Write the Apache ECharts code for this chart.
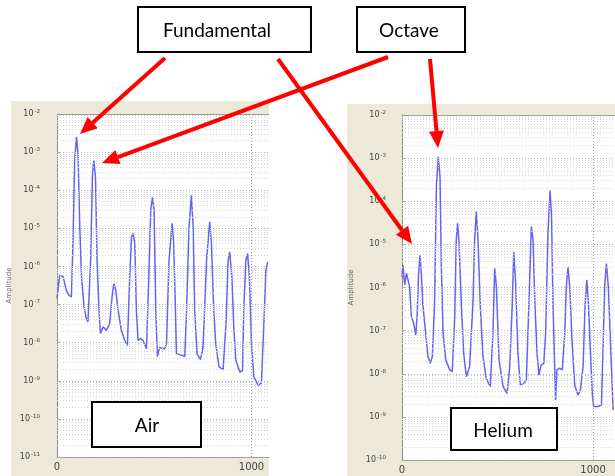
<!DOCTYPE html>
<html><head><meta charset="utf-8">
<script src="https://cdn.jsdelivr.net/npm/echarts@6/dist/echarts.min.js"></script>
<style>html,body{margin:0;padding:0;background:#fff}#c{width:615px;height:476px}</style>
</head><body><div id="c"></div>
<script>
// ---- data ----
const airFreq = [0,14,31,48,60,74,82,91,100,108,117,126,139,151,159,173,182,189,198,206,216,223,237,254,271,283,292,302,314,331,348,362,374,383,391,400,408,417,431,442,460,472,482,491,499,508,516,528,554,563,576,592,600,609,614,640,657,666,679,691,700,708,720,738,751,769,785,794,806,816,833,854,868,880,888,899,909,919,940,954,960,971,980,989,1000,1012,1034,1051,1063,1074,1083];
const airAmp = [1.45e-7,5.9e-7,5.4e-7,2.4e-7,1.78e-7,1.58e-7,4.0e-6,6.2e-4,2.5e-3,9.3e-4,1.1e-5,5.4e-7,8.7e-8,4.3e-8,3.5e-8,1.45e-6,2.2e-4,6.2e-4,2.2e-4,1.45e-6,7.1e-8,1.74e-8,2.6e-8,2.1e-8,3.2e-8,1.58e-7,3.5e-7,2.4e-7,7.1e-8,2.1e-8,1.15e-8,8.5e-9,5.4e-7,6.0e-6,7.4e-6,4.0e-6,7.1e-8,1.15e-8,1.29e-8,1.15e-8,6.9e-9,5.4e-7,3.0e-5,6.5e-5,3.0e-5,7.1e-8,4.3e-9,7.4e-9,6.9e-9,9.5e-9,1.45e-6,1.35e-5,4.0e-6,7.1e-8,5.1e-9,4.7e-9,4.3e-9,7.1e-8,1.1e-5,7.4e-5,1.1e-5,7.1e-8,5.1e-9,3.6e-9,7.8e-9,1.45e-6,1.48e-5,4.0e-6,7.1e-8,9.5e-9,2.3e-9,1.95e-9,2.6e-8,1.45e-6,2.4e-6,5.4e-7,2.6e-8,3.5e-9,1.7e-9,1.86e-9,7.1e-8,1.45e-6,2.2e-6,5.4e-7,9.5e-9,1.26e-9,7.6e-10,8.7e-10,2.6e-8,7.9e-7,1.32e-6];
const heliumFreq = [0,5,14,23,31,40,49,61,72,79,87,94,101,110,124,136,148,159,171,180,190,199,206,215,229,250,263,276,284,291,298,311,323,337,354,372,380,389,398,410,424,441,462,476,485,494,508,529,550,564,578,585,595,607,619,637,651,665,677,686,695,707,717,728,742,752,764,775,783,790,799,804,811,825,839,852,860,869,878,890,904,921,934,948,958,967,975,986,996,1003,1026,1044,1052,1061,1070,1080,1091,1105];
const heliumAmp = [1.78e-6,3.31e-6,1.15e-6,2.14e-6,2.19e-6,1.05e-6,2.09e-7,1.48e-7,7.9e-8,2.09e-7,2.14e-6,5.6e-6,2.14e-6,3.6e-7,8.7e-8,2.5e-8,1.74e-8,2.5e-8,5.1e-7,2.2e-4,1.07e-3,3.7e-4,3.0e-6,8.7e-8,2.1e-8,1.23e-8,1.12e-8,2.09e-7,1.26e-5,3.1e-5,1.26e-5,3.6e-7,2.95e-8,8.5e-9,1.48e-8,5.1e-7,1.26e-5,5.8e-5,1.26e-5,3.6e-7,2.5e-8,7.8e-9,5.0e-9,8.7e-8,2.8e-6,1.05e-6,2.1e-8,5.0e-9,3.5e-9,1.48e-8,5.1e-7,6.8e-6,1.26e-6,2.95e-8,5.5e-9,6.0e-9,7.2e-9,5.1e-7,2.6e-5,1.26e-5,5.1e-7,2.95e-8,9.3e-9,1.58e-8,1.74e-8,8.7e-8,1.82e-5,1.78e-4,4.4e-5,5.1e-7,1.48e-8,2.45e-9,1.23e-8,1.35e-8,1.23e-8,8.7e-8,1.05e-6,3.0e-6,1.05e-6,6.0e-8,5.5e-9,3.2e-9,4.2e-9,1.48e-8,3.6e-7,1.48e-6,5.1e-7,3.5e-8,3.5e-9,1.74e-9,1.74e-9,1.9e-9,3.5e-8,1.05e-6,3.6e-6,1.05e-6,6.0e-8,1.45e-9];
const xTickValues = [0, 1000];
const airYRange = [1e-11, 1e-2];
const heliumYRange = [1e-10, 1e-2];
const yAxisName = 'Amplitude';
const boxLabels = {fundamental: 'Fundamental', octave: 'Octave', air: 'Air', helium: 'Helium'};

// ---- helpers ----
function gridLines(range){
  const lo = Math.round(Math.log10(range[0])), hi = Math.round(Math.log10(range[1]));
  const out = [];
  for (let d = lo; d < hi; d++) {
    for (let k = 1; k < 10; k++) {
      out.push({yAxis: k * Math.pow(10, d), lineStyle: {color: k === 1 ? '#b0b0b0' : '#d4d4d4', type: [1, 2], width: 1}});
    }
  }
  out.push({yAxis: range[1], lineStyle: {color: '#9a9a9a', type: 'solid', width: 1}});
  out.push({xAxis: xTickValues[1], lineStyle: {color: '#a0a0a0', type: [1, 2], width: 1}});
  return out;
}
function yLabel(v){
  const e = Math.round(Math.log10(v));
  return '{b|10}{s|' + e + '}';
}
const labelRich = {
  b: {fontFamily: 'DejaVu Sans', fontSize: 8, color: '#444'},
  s: {fontFamily: 'DejaVu Sans', fontSize: 5.5, color: '#444', padding: [0, 0, 5, 1]}
};
function xAxisCfg(idx, max){
  return {
    type: 'value', gridIndex: idx, min: 0, max: max, interval: 1000,
    axisLine: {show: true, lineStyle: {color: '#9a9a9a'}},
    axisTick: {show: false},
    splitLine: {show: false},
    axisLabel: {showMaxLabel: false, formatter: v => String(v), fontFamily: 'DejaVu Sans', fontSize: 10, color: '#444', margin: 5}
  };
}
function yAxisCfg(idx, range, margin, nameGap){
  return {
    type: 'log', logBase: 10, gridIndex: idx, min: range[0], max: range[1],
    splitNumber: Math.round(Math.log10(range[1]) - Math.log10(range[0])),
    name: yAxisName, nameLocation: 'middle', nameGap: nameGap,
    nameTextStyle: {fontFamily: 'DejaVu Sans', fontSize: 7, color: '#666'},
    axisLine: {show: true, lineStyle: {color: '#8a8a8a'}},
    axisTick: {show: true, inside: true, length: 4, lineStyle: {color: '#aaa'}},
    splitLine: {show: false},
    axisLabel: {formatter: yLabel, rich: labelRich, margin: margin}
  };
}
function arrow(x1, y1, x2, y2){
  const a = Math.atan2(y2 - y1, x2 - x1), L = 17, W = 7.5;
  const bx = x2 - L * Math.cos(a), by = y2 - L * Math.sin(a);
  const px = -Math.sin(a) * W, py = Math.cos(a) * W;
  return [
    {type: 'line', z: 30, shape: {x1: x1, y1: y1, x2: bx, y2: by}, style: {stroke: '#ff0000', lineWidth: 4}},
    {type: 'polygon', z: 30, shape: {points: [[x2, y2], [bx + px, by + py], [bx - px, by - py]]}, style: {fill: '#ff0000'}}
  ];
}
function box(x, y, w, h, label, tx, ty){
  return [
    {type: 'rect', z: 20, shape: {x: x, y: y, width: w, height: h}, style: {fill: '#fff', stroke: '#000', lineWidth: 2}},
    {type: 'text', z: 21, x: tx, y: ty, style: {text: label, fontFamily: 'Lato', fontSize: 19, fill: '#000', textAlign: 'center', textVerticalAlign: 'middle'}}
  ];
}

const chart = echarts.init(document.getElementById('c'), null, {renderer: 'canvas'});
const lineStyle = {color: '#6464f0', width: 1.5};
const markLineBase = {silent: true, precision: 20, symbol: ['none', 'none'], label: {show: false}, animation: false};
chart.setOption({
  animation: false,
  backgroundColor: '#fff',
  grid: [
    {left: 57, top: 114, width: 212, height: 343, show: true, backgroundColor: '#fff', borderWidth: 0},
    {left: 402, top: 115, width: 213, height: 345, show: true, backgroundColor: '#fff', borderWidth: 0}
  ],
  xAxis: [xAxisCfg(0, 1090), xAxisCfg(1, 1115)],
  yAxis: [yAxisCfg(0, airYRange, 17, 44), yAxisCfg(1, heliumYRange, 16, 47)],
  series: [
    {type: 'line', xAxisIndex: 0, yAxisIndex: 0, showSymbol: false, symbol: 'none', clip: true,
     lineStyle: lineStyle, data: airFreq.map((f, i) => [f, airAmp[i]]),
     markLine: Object.assign({data: gridLines(airYRange)}, markLineBase)},
    {type: 'line', xAxisIndex: 1, yAxisIndex: 1, showSymbol: false, symbol: 'none', clip: true,
     lineStyle: lineStyle, data: heliumFreq.map((f, i) => [f, heliumAmp[i]]),
     markLine: Object.assign({data: gridLines(heliumYRange)}, markLineBase)}
  ],
  graphic: [
    {type: 'rect', z: -10, shape: {x: 11, y: 101, width: 258, height: 375}, style: {fill: '#ECE9D8'}},
    {type: 'rect', z: -10, shape: {x: 347, y: 104, width: 268, height: 372}, style: {fill: '#ECE9D8'}},
    ...box(138, 7, 173, 45, boxLabels.fundamental, 217, 31),
    ...box(357, 7, 108, 45, boxLabels.octave, 409, 31),
    ...box(92, 402, 109, 45, boxLabels.air, 147, 426),
    ...box(451, 408, 106, 42, boxLabels.helium, 503, 431),
    ...arrow(165, 58, 80, 134),
    ...arrow(388, 57, 102, 163),
    ...arrow(430, 59, 438, 148),
    ...arrow(278, 59, 412, 244)
  ]
});
</script>
</body></html>
